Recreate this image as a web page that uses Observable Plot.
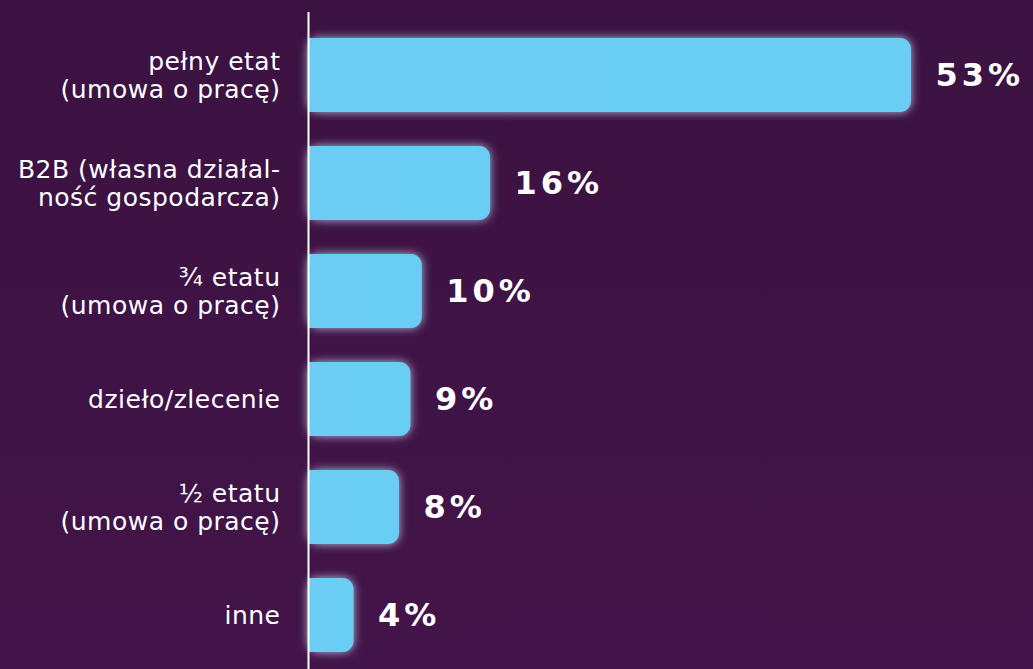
<!DOCTYPE html>
<html>
<head>
<meta charset="utf-8">
<script src="https://cdn.jsdelivr.net/npm/d3@7"></script>
<script src="https://cdn.jsdelivr.net/npm/@observablehq/plot@0.6"></script>
<style>
  html, body { margin: 0; padding: 0; }
  body { width: 1033px; height: 669px; overflow: hidden; background: linear-gradient(#3b1241, #431449); }
  svg { display: block; background: transparent !important; }
</style>
</head>
<body>
<div id="chart"></div>
<script>
const categories = [
  "pełny etat\n(umowa o pracę)",
  "B2B (własna działal-\nność gospodarcza)",
  "¾ etatu\n(umowa o pracę)",
  "dzieło/zlecenie",
  "½ etatu\n(umowa o pracę)",
  "inne"
];
const values = [53, 16, 10, 9, 8, 4];
const valueLabels = ["53%", "16%", "10%", "9%", "8%", "4%"];

const data = categories.map((c, i) => ({category: c, value: values[i], label: valueLabels[i]}));

const barColor = "#6bcdf4";

const plot = Plot.plot({
  width: 1033,
  height: 669,
  marginLeft: 308,
  marginRight: 122,
  marginTop: 12,
  marginBottom: 0,
  style: {background: "transparent"},
  x: {domain: [0, 53], axis: null},
  y: {domain: categories, range: [37, 654], padding: 0.313, paddingOuter: 0, axis: null},
  marks: [
    Plot.barX(data, {x1: 0, x2: "value", y: "category", fill: barColor, rx: 11}),
    Plot.barX(data, {x1: 0, x2: d => d.value / 2, y: "category", fill: barColor}),
    Plot.ruleX([0], {stroke: "#ffffff", strokeWidth: 2}),
    Plot.text(data, {
      x: 0, y: "category", text: "category",
      textAnchor: "end", dx: -28, fill: "#ffffff",
      fontSize: 25, lineHeight: 1.12,
      fontFamily: "'DejaVu Sans', sans-serif"
    }),
    Plot.text(data, {
      x: "value", y: "category", text: "label",
      textAnchor: "start", dx: 24, fill: "#ffffff",
      fontSize: 32, fontWeight: "bold",
      fontFamily: "'DejaVu Sans', sans-serif"
    })
  ]
});

// glow filter around bars
const ns = "http://www.w3.org/2000/svg";
const defs = document.createElementNS(ns, "defs");
defs.innerHTML = `
<filter id="glow" x="-30%" y="-40%" width="160%" height="180%">
  <feGaussianBlur in="SourceAlpha" stdDeviation="5" result="blur"/>
  <feFlood flood-color="#c4e0ff" flood-opacity="0.85"/>
  <feComposite in2="blur" operator="in" result="glow"/>
  <feMerge><feMergeNode in="glow"/><feMergeNode in="SourceGraphic"/></feMerge>
</filter>`;
plot.insertBefore(defs, plot.firstChild);
const bars = plot.querySelectorAll('g[aria-label="bar"]');
if (bars.length) bars[0].setAttribute("filter", "url(#glow)");
const texts = plot.querySelectorAll('g[aria-label="text"]');
if (texts[0]) texts[0].setAttribute("letter-spacing", "0.5");
if (texts[1]) texts[1].setAttribute("letter-spacing", "4");
document.getElementById("chart").appendChild(plot);
</script>
</body>
</html>
